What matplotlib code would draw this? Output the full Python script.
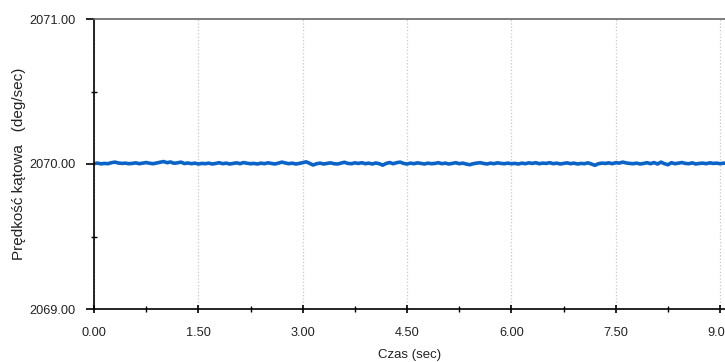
import numpy as np
import matplotlib
matplotlib.use("Agg")
import matplotlib.pyplot as plt
from matplotlib.ticker import MultipleLocator, FormatStrFormatter

plt.rcParams['font.family'] = ['Liberation Sans', 'DejaVu Sans']

baseline = 2070.0
sample_period = 0.05
# offsets from baseline, in thousandths of deg/sec
speed_offset = [
    3, 6, 1, 4, 2, 9, 13, 7, 4, 6, 2, 4, 8, 2, 6, 10, 5, 2, 7, 12,
    17, 9, 14, 5, 8, 13, 3, 7, 2, 6, 0, 4, 2, 6, 0, 4, 9, 2, 6, 0,
    4, 8, 2, 10, 5, 2, 4, 0, 6, 2, 8, 4, 0, 6, 13, 7, 2, 6, 0, 4,
    9, 15, 4, -7, 2, 6, 0, 4, 8, 2, 0, 6, 12, 4, 2, 8, 4, 9, 2, 6,
    0, 7, 2, -8, 4, 10, 2, 9, 13, 4, 0, 6, 2, 8, 4, 0, 6, 2, 4, 9,
    2, 6, 0, 4, 9, 2, 6, 0, -5, 2, 6, 9, 4, 0, 6, 2, 8, 4, 2, 6,
    2, 4, 0, 6, 2, 8, 4, 9, 2, 6, 4, 9, 2, 6, 0, 4, 8, 2, 6, 0,
    4, 2, 8, 0, -9, 2, 6, 4, 8, 2, 9, 6, 13, 7, 4, 2, 6, 0, 4, 9,
    2, 10, 0, 13, 2, -5, 9, 2, 6, 10, 4, 2, 8, 0, 4, 6, 2, 8, 4, 6,
    2, 6, 4,
]
x_ticks = [0.0, 1.5, 3.0, 4.5, 6.0, 7.5, 9.0]
y_ticks = [2069.0, 2070.0, 2071.0]
x_label = "Czas (sec)"
y_label = "Prędkość kątowa   (deg/sec)"

time = np.arange(len(speed_offset)) * sample_period
speed = baseline + np.array(speed_offset) / 1000.0

fig = plt.figure(figsize=(7.25, 3.62), dpi=100)
ax = fig.add_axes([94/725, 1-309/362, 1-94/725, (309-19)/362])

ax.plot(time, speed, color='#0a64c8', lw=2.6, solid_joinstyle='round')

ax.set_xlim(0, 9.07)
ax.set_ylim(2069, 2071)
ax.set_xticks(x_ticks)
ax.set_yticks(y_ticks)
ax.xaxis.set_major_formatter(FormatStrFormatter('%.2f'))
ax.yaxis.set_major_formatter(FormatStrFormatter('%.2f'))
ax.xaxis.set_minor_locator(MultipleLocator(0.75))
ax.yaxis.set_minor_locator(MultipleLocator(0.5))

ax.grid(True, axis='x', which='major', color='#c8c8c8', linestyle=':', lw=0.9)
ax.set_axisbelow(True)

for s in ['left', 'bottom']:
    ax.spines[s].set_color('black')
    ax.spines[s].set_linewidth(1.2)
ax.spines['top'].set_color('#666666')
ax.spines['top'].set_linewidth(1.2)
ax.spines['right'].set_visible(False)

ax.tick_params(axis='y', which='major', direction='out', length=6, width=1.2,
               labelsize=9.2, labelcolor='#222222', pad=7)
ax.tick_params(axis='y', which='minor', direction='inout', length=5, width=1)
ax.tick_params(axis='x', which='major', direction='inout', length=6, width=1.2,
               labelsize=9.2, labelcolor='#222222', pad=10)
ax.tick_params(axis='x', which='minor', direction='inout', length=5, width=1)

ax.set_xlabel(x_label, fontsize=9.5, color='#222222', labelpad=7)
ax.set_ylabel(y_label, fontsize=11, color='#222222', labelpad=3)

fig.savefig('out.png', dpi=100, facecolor='white')
